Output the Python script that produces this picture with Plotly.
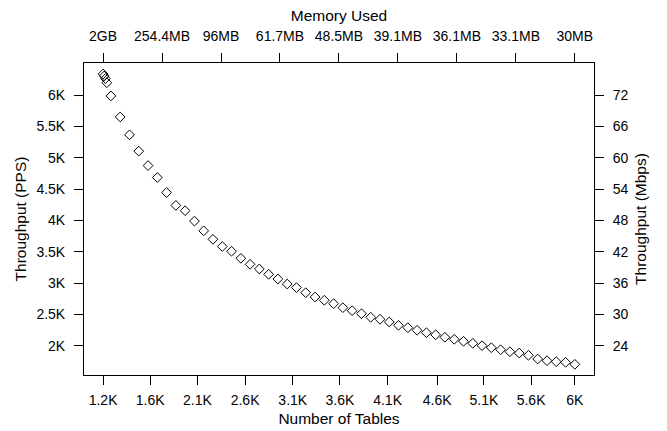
import plotly.graph_objects as go

# ---- data ----
tables = [1200, 1212, 1224, 1238,
          1280, 1374, 1469, 1563, 1658, 1752, 1846, 1941, 2035, 2130,
          2224, 2318, 2413, 2507, 2602, 2696, 2790, 2885, 2979, 3074,
          3168, 3262, 3357, 3451, 3546, 3640, 3734, 3829, 3923, 4018,
          4112, 4206, 4301, 4395, 4490, 4584, 4678, 4773, 4867, 4962,
          5056, 5150, 5245, 5339, 5434, 5528, 5622, 5717, 5811, 5906, 6000]
pps = [6335, 6303, 6262, 6196,
       5985, 5650, 5365, 5105, 4875, 4685, 4445, 4240, 4156, 3990,
       3835, 3700, 3585, 3510, 3397, 3301, 3227, 3142, 3067, 2987,
       2930, 2849, 2780, 2728, 2674, 2610, 2562, 2514, 2457, 2425,
       2382, 2329, 2291, 2250, 2211, 2178, 2138, 2106, 2074, 2042,
       2004, 1972, 1940, 1908, 1887, 1851, 1792, 1765, 1749, 1739, 1707]

bottom_tick_vals = [1200, 1680, 2160, 2645, 3130, 3610, 4095, 4600, 5075, 5555, 6000]
bottom_tick_text = ["1.2K", "1.6K", "2.1K", "2.6K", "3.1K", "3.6K", "4.1K", "4.6K", "5.1K", "5.6K", "6K"]
top_tick_vals = [1200, 1800, 2400, 3000, 3600, 4200, 4800, 5400, 6000]
top_tick_text = ["2GB", "254.4MB", "96MB", "61.7MB", "48.5MB", "39.1MB", "36.1MB", "33.1MB", "30MB"]
left_tick_vals = [2000, 2500, 3000, 3500, 4000, 4500, 5000, 5500, 6000]
left_tick_text = ["2K", "2.5K", "3K", "3.5K", "4K", "4.5K", "5K", "5.5K", "6K"]
right_tick_vals = [24, 30, 36, 42, 48, 54, 60, 66, 72]
mbps_per_pps = 0.012

x_range = [1006, 6195]
y_range = [1537, 6510]
y2_range = [y_range[0] * mbps_per_pps, y_range[1] * mbps_per_pps]

FONT = "Liberation Sans, Arial, sans-serif"
TICK_SIZE = 14
TITLE_SIZE = 15.5

fig = go.Figure()
fig.add_trace(go.Scatter(
    x=tables, y=pps, mode="markers",
    marker=dict(symbol="diamond-open", size=7.5, color="black", line=dict(width=1, color="black")),
    showlegend=False, hoverinfo="x+y"))
# invisible trace to anchor secondary axes
fig.add_trace(go.Scatter(
    x=tables, y=[v * mbps_per_pps for v in pps], xaxis="x2", yaxis="y2",
    mode="markers", marker=dict(opacity=0), showlegend=False, hoverinfo="skip"))

axis_common = dict(showgrid=False, zeroline=False, ticks="outside", ticklen=9,
                   tickwidth=1, tickcolor="black", linecolor="black", linewidth=1,
                   showline=True, automargin=False,
                   tickfont=dict(family=FONT, size=TICK_SIZE, color="black"))

fig.update_layout(
    width=667, height=431,
    margin=dict(l=83.5, r=72.5, t=62.7, b=56),
    paper_bgcolor="white", plot_bgcolor="white",
    font=dict(family=FONT, size=TICK_SIZE, color="black"),
    xaxis=dict(range=x_range, tickmode="array", tickvals=bottom_tick_vals,
               ticktext=bottom_tick_text, mirror=True, ticklabelstandoff=3,
               title=dict(text="Number of Tables", font=dict(family=FONT, size=TITLE_SIZE), standoff=6),
               **axis_common),
    xaxis2=dict(range=x_range, overlaying="x", side="top", tickmode="array",
                tickvals=top_tick_vals, ticktext=top_tick_text, ticklabelstandoff=6,
                title=dict(text="Memory Used", font=dict(family=FONT, size=TITLE_SIZE), standoff=2),
                anchor="y", **axis_common),
    yaxis=dict(range=y_range, tickmode="array", tickvals=left_tick_vals,
               ticktext=left_tick_text, mirror=True, ticklabelstandoff=6,
               title=dict(text="Throughput (PPS)", font=dict(family=FONT, size=TITLE_SIZE), standoff=5),
               **axis_common),
    yaxis2=dict(range=y2_range, overlaying="y", side="right", tickmode="array",
                tickvals=right_tick_vals, ticktext=[str(v) for v in right_tick_vals],
                ticklabelstandoff=6,
                title=dict(text="Throughput (Mbps)", font=dict(family=FONT, size=TITLE_SIZE), standoff=7),
                anchor="x", **axis_common),
)

fig.write_html("out.html")
